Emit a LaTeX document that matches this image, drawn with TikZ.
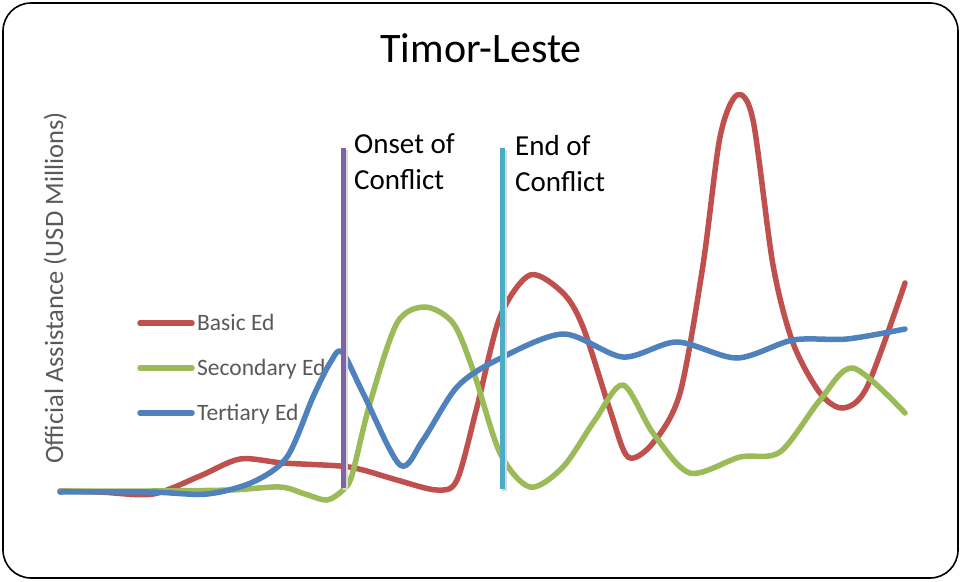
\documentclass[tikz,border=0pt]{standalone}
\usepackage{fontspec}
\setmainfont{Carlito}
\usepackage{xcolor}
\usepackage{tikz}
\usetikzlibrary{positioning, calc}
\definecolor{basicred}{HTML}{C0504D}
\definecolor{secgreen}{HTML}{9BBB59}
\definecolor{tertblue}{HTML}{4F81BD}
\definecolor{onsetpurple}{HTML}{8064A2}
\definecolor{endcyan}{HTML}{4BACC6}
\definecolor{axisgray}{HTML}{595959}
\tikzstyle{frame} = [draw=black, line width=1.6pt, rounded corners=28pt]
\tikzstyle{series} = [line width=5.5pt, line cap=round, line join=round]
\tikzstyle{marker} = [line width=5pt]
\tikzstyle{markershadow} = [line width=5pt, draw=black!15]
\tikzstyle{legtext} = [anchor=base west, inner sep=0pt, text=axisgray, font=\fontsize{23.5}{28}\selectfont]
\tikzstyle{eventlabel} = [anchor=base west, inner sep=0pt, align=left, font=\fontsize{29}{36}\selectfont]

\begin{document}
\begin{tikzpicture}[x=1pt, y=-1pt]
        \useasboundingbox (0,0) rectangle (961,581);
        \draw [frame] (3,3) rectangle (958,578);

        % Nodes
        \node (title) [anchor=base, font=\fontsize{42}{48}\selectfont] at (481,62) {Timor-Leste};
        \node (ylabel) [anchor=base, rotate=90, text=axisgray, font=\fontsize{26.5}{32}\selectfont] at (63,288) {Official Assistance (USD Millions)};

        \node (basic) [legtext] at (197,330) {Basic Ed};
        \node (secondary) [legtext] at (197,375) {Secondary Ed};
        \node (tertiary) [legtext] at (197,420) {Tertiary Ed};

        \coordinate (onsettop) at (343,148);
        \coordinate (onsetbot) at (343,488);
        \coordinate (endtop) at (502,148);
        \coordinate (endbot) at (502,489);
        \node (onset) [eventlabel] at (354,189) {Onset of\\Conflict};
        \node (endlabel) [eventlabel] at (515,191) {End of\\Conflict};

        % Series
        \draw [series, basicred] plot [smooth, tension=0.5] coordinates {
            (60,491) (100,492) (153,494) (200,476) (240,459) (283,463) (340,466)
            (363,470) (397,480) (437,490) (457,480) (477,407) (500,317) (530,275)
            (563,293) (583,327) (610,410) (628,457) (653,443) (680,393) (703,265)
            (720,137) (737,95) (753,120) (773,265) (793,343) (820,393) (843,408)
            (867,387) (905,283)};
        \draw [series, secgreen] plot [smooth, tension=0.5] coordinates {
            (60,491) (150,491) (230,490) (280,487) (305,494) (327,500) (343,490)
            (352,475) (370,403) (397,323) (425,307) (453,323) (473,370) (500,453)
            (530,487) (563,467) (595,420) (623,385) (653,433) (690,473) (740,457)
            (780,452) (820,400) (853,368) (905,413)};
        \draw [series, tertblue] plot [smooth, tension=0.5] coordinates {
            (60,492) (150,492) (207,494) (253,482) (287,457) (313,397) (330,363)
            (342,352) (363,393) (400,465) (423,440) (457,387) (497,360) (563,334)
            (623,357) (677,342) (737,358) (793,340) (847,339) (905,329)};

        % Legend keys
        \draw [series, basicred] ([xshift=-57pt]basic.base west) ++(0,-7) -- ++(52,0);
        \draw [series, secgreen] ([xshift=-57pt]secondary.base west) ++(0,-7) -- ++(52,0);
        \draw [series, tertblue] ([xshift=-57pt]tertiary.base west) ++(0,-7) -- ++(52,0);

        % Event markers
        \draw [markershadow] ([shift={(2,2)}]onsettop) -- ([shift={(2,2)}]onsetbot);
        \draw [marker, onsetpurple] (onsettop) -- (onsetbot);
        \draw [markershadow] ([shift={(2,2)}]endtop) -- ([shift={(2,2)}]endbot);
        \draw [marker, endcyan] (endtop) -- (endbot);
\end{tikzpicture}
\end{document}
